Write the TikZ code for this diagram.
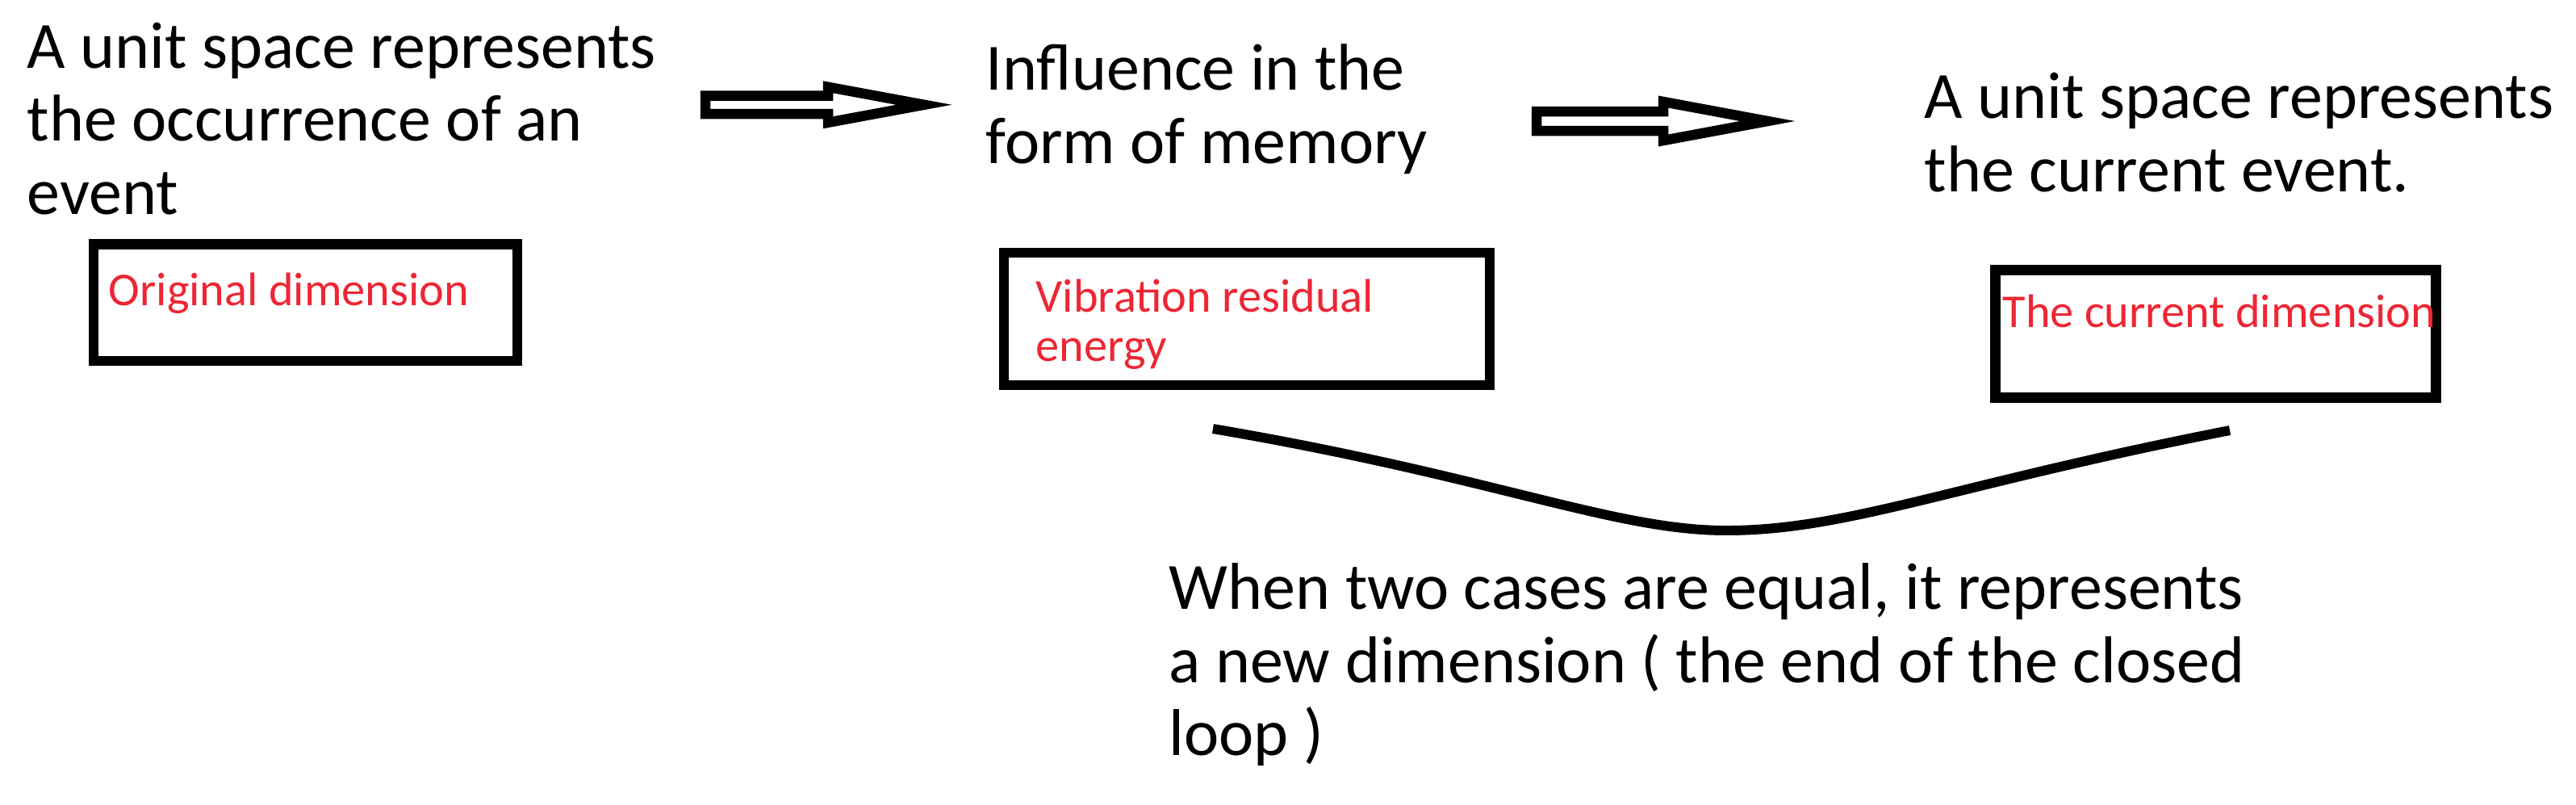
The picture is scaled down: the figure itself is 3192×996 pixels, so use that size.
\documentclass[tikz,border=0pt]{standalone}
\usepackage{fontspec}
\setmainfont{Carlito}
\definecolor{dimred}{RGB}{237,38,52}
\newcommand{\bigtxt}{\fontsize{23.3pt}{25.6pt}\selectfont}
\newcommand{\redtxt}{\fontsize{16.6pt}{17.1pt}\selectfont}

\begin{document}
\begin{tikzpicture}[x=0.01cm, y=-0.01cm,
  note/.style={font=\bigtxt, anchor=base west, inner sep=0pt, align=left},
  dimlabel/.style={font=\redtxt, text=dimred, anchor=base west, inner sep=0pt, align=left},
  dimbox/.style={draw, line width=3.56pt, inner sep=0pt},
  hollow/.style={draw, line width=3.56pt, line join=miter}]
  \useasboundingbox (0,0) rectangle (3192,996);

  % stage texts (placed by the baseline of their last line)
  \node[note] (past) at (33,265) {A unit space represents\\the occurrence of an\\event};
  \node[note] (memory) at (1221,202) {Influence in the\\form of memory};
  \node[note] (current) at (2384,237) {A unit space represents\\the current event.};

  % boxes
  \node[dimbox, minimum width=5.25cm, minimum height=1.445cm] (origbox) at (378.5,374.75) {};
  \node[dimbox, minimum width=6.02cm, minimum height=1.64cm] (vibbox) at (1545,395) {};
  \node[dimbox, minimum width=5.46cm, minimum height=1.58cm] (curbox) at (2745.5,413.5) {};
  \node[dimlabel] (origtxt) at (134,378) {Original dimension};
  \node[dimlabel] (vibtxt) at (1283,447) {Vibration residual\\energy};
  \node[dimlabel] (curtxt) at (2481,405) {The current dimension};

  % hollow arrows
  \foreach \xa/\xb/\xt/\ym/\hs/\hw in {874/1026/1145/129.75/11.25/22, 1904/2061/2190/150/12/24}
    \draw[hollow] (\xa,\ym-\hs) -- (\xb,\ym-\hs) -- (\xb,\ym-\hw) -- (\xt,\ym)
      -- (\xb,\ym+\hw) -- (\xb,\ym+\hs) -- (\xa,\ym+\hs) -- cycle;

  % closing curve
  \draw[line width=3.4pt] (1503,531) .. controls (1850,590) and (2000,657) .. (2139,657)
    .. controls (2290,657) and (2420,600) .. (2763,533);
  \node[note] (equal) at (1448,935) {When two cases are equal, it represents\\a new dimension ( the end of the closed\\loop )};
\end{tikzpicture}
\end{document}
